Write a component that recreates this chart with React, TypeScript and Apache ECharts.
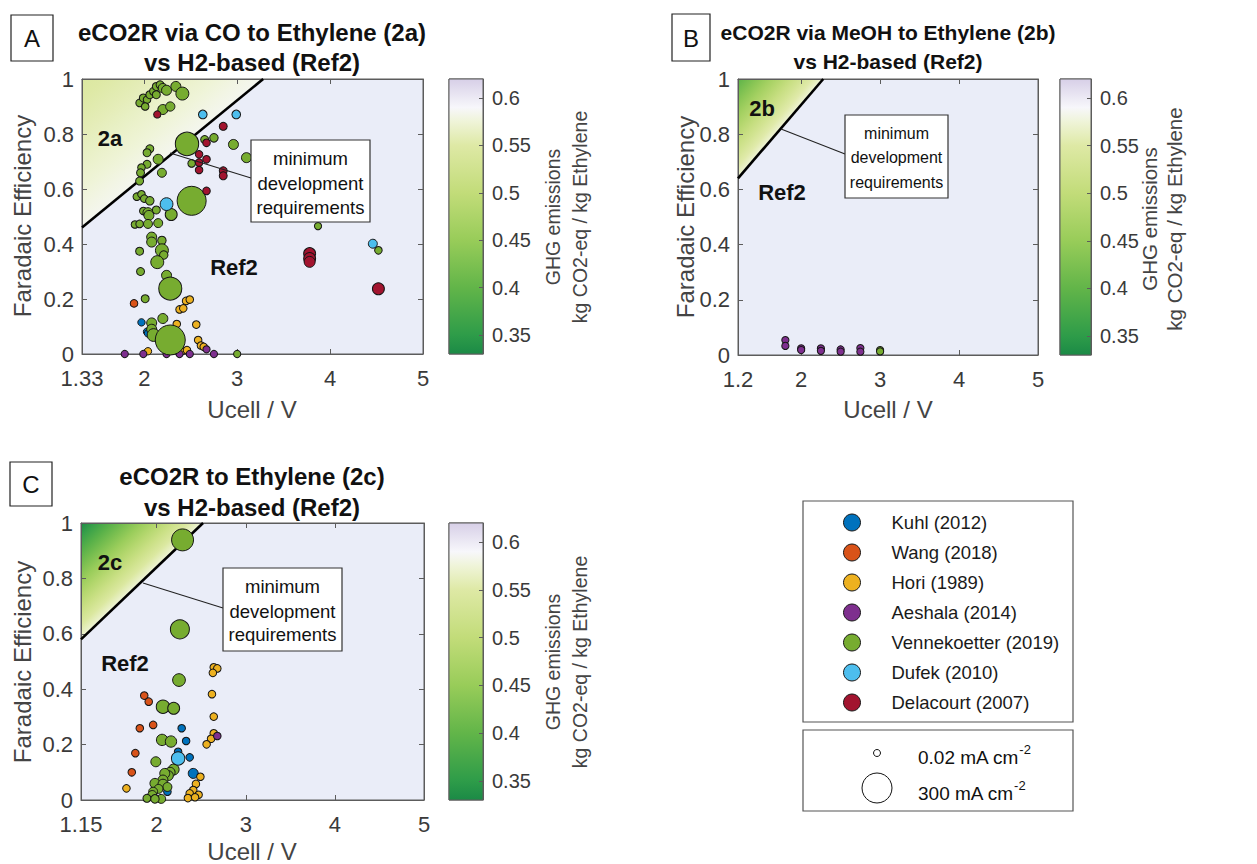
import React, { useEffect, useRef } from "react";
import * as echarts from "echarts";

const FONT = "'Liberation Sans', Arial, Helvetica, sans-serif";

// [Ucell (V), Faradaic efficiency, current density (mA cm-2)]
type Pt = [number, number, number];

const SOURCES = [
  "Kuhl (2012)",
  "Wang (2018)",
  "Hori (1989)",
  "Aeshala (2014)",
  "Vennekoetter (2019)",
  "Dufek (2010)",
  "Delacourt (2007)",
];
const SOURCE_COLORS = ["#0072BD", "#D95319", "#EDB120", "#7E2F8E", "#77AC30", "#4DBEEE", "#A2142F"];

// ---------- Panel A : eCO2R via CO to Ethylene (2a) ----------
const A_KUHL: Pt[] = [[1.97, 0.115, 2], [2.03, 0.081, 2], [2.04, 0.075, 2], [2.38, 0.003, 2]];
const A_WANG: Pt[] = [[1.89, 0.184, 3]];
const A_HORI: Pt[] = [
  [2.45, 0.193, 3], [2.49, 0.198, 3], [2.38, 0.162, 3], [2.42, 0.166, 3], [2.35, 0.109, 3],
  [2.56, 0.107, 3], [2.58, 0.051, 3], [2.61, 0.031, 3], [2.64, 0.026, 3], [2.04, 0.01, 2],
  [2.41, 0.012, 3], [2.46, 0.014, 3],
];
const A_AESHALA: Pt[] = [
  [1.79, 0, 1], [1.99, 0, 1], [2.24, 0, 1], [2.38, 0, 1], [2.49, 0, 1], [2.67, 0.017, 1], [2.75, 0, 1],
];
const A_VENN: Pt[] = [
  [1.95, 0.913, 3], [1.99, 0.931, 5], [2.03, 0.925, 3], [2.01, 0.9, 3], [2.06, 0.943, 5],
  [2.1, 0.955, 5], [2.13, 0.973, 5], [2.17, 0.979, 5], [2.2, 0.967, 13], [2.13, 0.943, 5],
  [2.24, 0.959, 18], [2.34, 0.973, 18], [2.41, 0.947, 42], [2.2, 0.889, 18], [2.28, 0.9, 13],
  [2.46, 0.764, 175], [2.65, 0.78, 5], [2.75, 0.786, 8], [2.96, 0.762, 18], [3.1, 0.714, 18],
  [2.51, 0.693, 3], [2.06, 0.746, 5], [2.03, 0.732, 5], [2.15, 0.708, 18], [2.03, 0.69, 5],
  [1.97, 0.678, 3], [1.96, 0.659, 5], [2.19, 0.659, 11], [1.95, 0.629, 5],
  [1.92, 0.572, 3], [1.97, 0.581, 3], [2.0, 0.565, 3], [2.06, 0.557, 8], [2.51, 0.557, 280],
  [1.99, 0.52, 3], [2.04, 0.514, 18], [2.13, 0.524, 5], [2.29, 0.507, 33], [2.05, 0.504, 18],
  [1.9, 0.471, 3], [1.95, 0.473, 3], [2.04, 0.473, 11], [2.15, 0.476, 11],
  [2.08, 0.425, 18], [2.08, 0.407, 18], [2.19, 0.413, 8], [1.95, 0.374, 5], [2.19, 0.377, 42],
  [2.21, 0.36, 8], [2.14, 0.334, 42], [1.96, 0.3, 5], [2.24, 0.286, 18], [2.28, 0.238, 170],
  [2.01, 0.201, 5], [2.08, 0.113, 18], [2.2, 0.129, 18], [2.08, 0.09, 18], [2.1, 0.069, 40],
  [2.28, 0.051, 300], [3.0, 0, 1], [3.87, 0.465, 1], [4.52, 0.377, 3],
];
const A_DUFEK: Pt[] = [[2.63, 0.871, 9], [2.99, 0.871, 9], [2.24, 0.545, 40], [4.46, 0.401, 11]];
const A_DELACOURT: Pt[] = [
  [2.14, 0.871, 1], [2.85, 0.828, 5], [2.67, 0.768, 3], [2.59, 0.726, 3], [2.67, 0.708, 3],
  [2.59, 0.696, 3], [2.59, 0.669, 3], [2.85, 0.666, 5], [2.85, 0.648, 5], [2.67, 0.593, 3],
  [3.78, 0.365, 33], [3.78, 0.347, 33], [3.78, 0.335, 25], [4.52, 0.237, 33],
];

// ---------- Panel B : eCO2R via MeOH to Ethylene (2b) ----------
const B_AESHALA: Pt[] = [
  [1.8, 0.054, 1], [1.8, 0.033, 1], [2.0, 0.024, 1], [2.0, 0.018, 1], [2.25, 0.024, 1],
  [2.25, 0.015, 1], [2.5, 0.02, 1], [2.5, 0.012, 1], [2.75, 0.025, 1], [2.75, 0.012, 1],
];
const B_VENN: Pt[] = [[3.0, 0.018, 1], [3.0, 0.013, 1]];

// ---------- Panel C : eCO2R to Ethylene (2c) ----------
const C_KUHL: Pt[] = [[2.28, 0.259, 3], [2.33, 0.213, 3], [2.24, 0.174, 3], [2.37, 0.154, 3], [2.41, 0.096, 18], [2.12, 0.03, 3]];
const C_WANG: Pt[] = [[1.86, 0.377, 3], [1.91, 0.355, 3], [1.81, 0.259, 3], [1.96, 0.271, 3], [1.76, 0.169, 3], [1.72, 0.1, 3]];
const C_HORI: Pt[] = [
  [1.66, 0.042, 3], [2.64, 0.479, 3], [2.68, 0.475, 3], [2.63, 0.459, 3], [2.62, 0.382, 3],
  [2.64, 0.301, 3], [2.64, 0.241, 3], [2.61, 0.221, 3], [2.56, 0.201, 3], [2.49, 0.084, 3],
  [2.44, 0.058, 3], [2.41, 0.036, 3], [2.37, 0.024, 3], [2.47, 0.019, 3], [2.35, 0.007, 3], [2.43, 0.01, 3],
];
const C_AESHALA: Pt[] = [[2.68, 0.231, 3]];
const C_VENN: Pt[] = [
  [2.29, 0.939, 153], [2.26, 0.616, 110], [2.25, 0.433, 40], [2.07, 0.337, 46], [2.19, 0.331, 33],
  [2.06, 0.217, 28], [2.16, 0.211, 28], [1.99, 0.138, 18], [2.19, 0.11, 25], [2.15, 0.1, 18],
  [2.13, 0.088, 18], [2.09, 0.096, 18], [2.07, 0.072, 18], [1.98, 0.06, 18], [2.07, 0.057, 18],
  [2.12, 0.047, 11], [2.02, 0.04, 11], [1.96, 0.03, 11], [1.95, 0.018, 11], [1.89, 0.006, 5],
  [2.05, 0.004, 11], [1.98, 0.004, 8],
];
const C_DUFEK: Pt[] = [[2.24, 0.15, 46]];

const A_SETS: Pt[][] = [A_KUHL, A_WANG, A_HORI, A_AESHALA, A_VENN, A_DUFEK, A_DELACOURT];
const B_SETS: Pt[][] = [[], [], [], B_AESHALA, B_VENN, [], []];
const C_SETS: Pt[][] = [C_KUHL, C_WANG, C_HORI, C_AESHALA, C_VENN, C_DUFEK, []];

// boundary "minimum development requirements" lines: [Ucell, FE]
const BOUNDARY_A: [number, number][] = [[1.33, 0.46], [3.28, 1]];
const BOUNDARY_B: [number, number][] = [[1.2, 0.64], [2.28, 1]];
const BOUNDARY_C: [number, number][] = [[1.15, 0.58], [2.52, 1]];

// GHG emission range of the region (corner value, value at the boundary)
const GHG_A: [number, number] = [0.545, 0.585];
const GHG_B: [number, number] = [0.395, 0.575];
const GHG_C: [number, number] = [0.33, 0.575];

const X_TICKS_A = [1.33, 2, 3, 4, 5];
const X_TICKS_B = [1.2, 2, 3, 4, 5];
const X_TICKS_C = [1.15, 2, 3, 4, 5];
const CBAR_TICKS = [0.35, 0.4, 0.45, 0.5, 0.55, 0.6];
const CBAR_RANGE: [number, number] = [0.33, 0.62];
const SIZE_LEGEND = [0.02, 300];

// colormap (GHG value -> colour)
const CMAP: [number, string][] = [
  [0.33, "#1b8a46"],
  [0.35, "#2e9c49"],
  [0.4, "#62b549"],
  [0.45, "#98cc59"],
  [0.5, "#c2dc79"],
  [0.55, "#dee9a5"],
  [0.575, "#eff4d8"],
  [0.59, "#f7f7fb"],
  [0.62, "#d7cfe7"],
];

const hex = (c: string) => [1, 3, 5].map((i) => parseInt(c.slice(i, i + 2), 16));
function cmap(v: number): string {
  if (v <= CMAP[0][0]) return CMAP[0][1];
  for (let i = 1; i < CMAP.length; i++) {
    if (v <= CMAP[i][0]) {
      const [v0, c0] = CMAP[i - 1];
      const [v1, c1] = CMAP[i];
      const t = (v - v0) / (v1 - v0);
      const a = hex(c0), b = hex(c1);
      return `rgb(${a.map((x, k) => Math.round(x + (b[k] - x) * t)).join(",")})`;
    }
  }
  return CMAP[CMAP.length - 1][1];
}

const D_MIN = 7, D_MAX = 30;
const sizeOf = (j: number) =>
  Math.sqrt(D_MIN * D_MIN + ((D_MAX * D_MAX - D_MIN * D_MIN) * Math.max(0, j - SIZE_LEGEND[0])) / (SIZE_LEGEND[1] - SIZE_LEGEND[0]));

const fmt = (v: number) => String(parseFloat(Number(v).toFixed(2)));

const AXIS_COLOR = "#5c5c5c";
const LABEL_COLOR = "#3a3a3a";
const PLOT_BG = "#eaedf8";

type PanelCfg = {
  grid: { left: number; top: number; width: number; height: number };
  cbar: { left: number; top: number; width: number; height: number };
  xMin: number;
  xTicks: number[];
  sets: Pt[][];
  boundary: [number, number][];
  ghg: [number, number];
};

const PANELS: PanelCfg[] = [
  {
    grid: { left: 82, top: 79, width: 341, height: 275 },
    cbar: { left: 449, top: 79, width: 34, height: 275 },
    xMin: 1.33, xTicks: X_TICKS_A, sets: A_SETS, boundary: BOUNDARY_A, ghg: GHG_A,
  },
  {
    grid: { left: 738, top: 79, width: 300, height: 276 },
    cbar: { left: 1060, top: 79, width: 31, height: 276 },
    xMin: 1.2, xTicks: X_TICKS_B, sets: B_SETS, boundary: BOUNDARY_B, ghg: GHG_B,
  },
  {
    grid: { left: 81, top: 523, width: 343, height: 277 },
    cbar: { left: 449, top: 523, width: 34, height: 277 },
    xMin: 1.15, xTicks: X_TICKS_C, sets: C_SETS, boundary: BOUNDARY_C, ghg: GHG_C,
  },
];

function buildOption() {
  const grid: any[] = [];
  const xAxis: any[] = [];
  const yAxis: any[] = [];
  const series: any[] = [];
  const lineStyle = { color: AXIS_COLOR, width: 1 };
  const tickFont = { color: LABEL_COLOR, fontSize: 22, fontFamily: FONT };

  PANELS.forEach((p, pi) => {
    const g = grid.length;
    grid.push({ ...p.grid, show: true, backgroundColor: PLOT_BG, borderColor: AXIS_COLOR, borderWidth: 1, containLabel: false });
    grid.push({ ...p.cbar, show: true, backgroundColor: "transparent", borderColor: AXIS_COLOR, borderWidth: 1, containLabel: false });
    const xi = xAxis.length;
    const yi = yAxis.length;
    xAxis.push({
      type: "value", gridIndex: g, min: p.xMin, max: 5, position: "bottom", z: 1.5,
      axisLine: { show: true, onZero: false, lineStyle },
      axisTick: { show: true, inside: true, length: 5, customValues: p.xTicks, lineStyle },
      axisLabel: { show: true, customValues: p.xTicks, formatter: fmt, margin: 13, ...tickFont },
      splitLine: { show: false },
    });
    xAxis.push({
      type: "value", gridIndex: g, min: p.xMin, max: 5, position: "top", z: 1.5,
      axisLine: { show: true, onZero: false, lineStyle },
      axisTick: { show: true, inside: true, length: 5, customValues: p.xTicks, lineStyle },
      axisLabel: { show: false },
      splitLine: { show: false },
    });
    xAxis.push({ type: "value", gridIndex: g + 1, min: 0, max: 1, show: false });
    yAxis.push({
      type: "value", gridIndex: g, min: 0, max: 1, interval: 0.2, position: "left", z: 1.5,
      axisLine: { show: true, onZero: false, lineStyle },
      axisTick: { show: true, inside: true, length: 5, lineStyle },
      axisLabel: { show: true, formatter: fmt, margin: 8, ...tickFont },
      splitLine: { show: false },
    });
    yAxis.push({
      type: "value", gridIndex: g, min: 0, max: 1, interval: 0.2, position: "right", z: 1.5,
      axisLine: { show: true, onZero: false, lineStyle },
      axisTick: { show: true, inside: true, length: 5, lineStyle },
      axisLabel: { show: false },
      splitLine: { show: false },
    });
    yAxis.push({
      type: "value", gridIndex: g + 1, min: CBAR_RANGE[0], max: CBAR_RANGE[1], position: "right", z: 3,
      axisLine: { show: true, onZero: false, lineStyle },
      axisTick: { show: true, inside: true, length: 4, customValues: CBAR_TICKS, lineStyle },
      axisLabel: { show: true, customValues: CBAR_TICKS, formatter: fmt, margin: 9, color: LABEL_COLOR, fontSize: 20, fontFamily: FONT },
      splitLine: { show: false },
    });

    const regionStops = Array.from({ length: 9 }, (_, k) => ({
      offset: k / 8,
      color: cmap(p.ghg[0] + ((p.ghg[1] - p.ghg[0]) * k) / 8),
    }));
    series.push({
      type: "custom", name: `region${pi}`, xAxisIndex: xi, yAxisIndex: yi, z: 1, silent: true,
      data: [[p.boundary[0][0], p.boundary[0][1], p.boundary[1][0], p.boundary[1][1]]],
      renderItem: (_params: any, api: any) => {
        const p0 = api.coord([api.value(0), api.value(1)]);
        const p1 = api.coord([api.value(2), api.value(3)]);
        const corner = api.coord([api.value(0), api.value(3)]);
        const dx = p1[0] - p0[0], dy = p1[1] - p0[1];
        const t = ((corner[0] - p0[0]) * dx + (corner[1] - p0[1]) * dy) / (dx * dx + dy * dy);
        const fx = p0[0] + t * dx, fy = p0[1] + t * dy;
        return {
          type: "polygon",
          shape: { points: [p0, corner, p1] },
          style: { fill: new echarts.graphic.LinearGradient(corner[0], corner[1], fx, fy, regionStops, true), stroke: "none" },
        };
      },
    });
    series.push({
      type: "line", name: `boundary${pi}`, xAxisIndex: xi, yAxisIndex: yi, z: 1.6, silent: true,
      data: p.boundary, symbol: "none", lineStyle: { color: "#000", width: 2.6 }, animation: false,
    });
    const cbStops = CMAP.map(([v, c]) => ({ offset: (CBAR_RANGE[1] - v) / (CBAR_RANGE[1] - CBAR_RANGE[0]), color: c })).reverse();
    series.push({
      type: "custom", name: `cbar${pi}`, xAxisIndex: xi + 2, yAxisIndex: yi + 2, z: 1, silent: true,
      data: [[0, CBAR_RANGE[0], 1, CBAR_RANGE[1]]],
      renderItem: (_params: any, api: any) => {
        const tl = api.coord([api.value(0), api.value(3)]);
        const br = api.coord([api.value(2), api.value(1)]);
        return {
          type: "rect",
          shape: { x: tl[0], y: tl[1], width: br[0] - tl[0], height: br[1] - tl[1] },
          style: {
            fill: new echarts.graphic.LinearGradient(0, tl[1], 0, br[1], cbStops, true),
            stroke: AXIS_COLOR, lineWidth: 1,
          },
        };
      },
    });
    p.sets.forEach((pts, si) => {
      if (!pts.length) return;
      series.push({
        type: "scatter", name: SOURCES[si], xAxisIndex: xi, yAxisIndex: yi, z: 3, clip: false,
        data: pts,
        symbol: "circle",
        symbolSize: (v: Pt) => sizeOf(v[2]),
        itemStyle: { color: SOURCE_COLORS[si], borderColor: "#151515", borderWidth: 1, opacity: 1 },
        emphasis: { disabled: true },
      });
    });
  });

  const T = (x: number, y: number, text: string, font: string, extra: any = {}, rot = 0) => ({
    type: "text", x, y, rotation: rot, z: 100, silent: true,
    style: { text, font, fill: "#111", align: "center", verticalAlign: "middle", textAlign: "center", textVerticalAlign: "middle", ...extra },
  });
  const R = (x: number, y: number, w: number, h: number, stroke = "#333") => ({
    type: "rect", z: 99, silent: true, shape: { x, y, width: w, height: h }, style: { fill: "#fff", stroke, lineWidth: 1.2 },
  });
  const L = (x1: number, y1: number, x2: number, y2: number) => ({
    type: "line", z: 99, silent: true, shape: { x1, y1, x2, y2 }, style: { stroke: "#222", lineWidth: 1.1 },
  });
  const bold24 = `bold 24px ${FONT}`;
  const bold21 = `bold 21px ${FONT}`;
  const bold22 = `bold 22px ${FONT}`;
  const reg24 = `24px ${FONT}`;
  const reg185 = `18.5px ${FONT}`;
  const reg16 = `16px ${FONT}`;
  const cbFont = `19.5px ${FONT}`;
  const cbFontB = `20.5px ${FONT}`;
  const rot = Math.PI / 2;
  const gray = { fill: "#444" };

  const graphic: any[] = [
    R(11, 15, 42, 46, "#222"), T(32, 38, "A", reg24),
    R(672, 14, 38, 47, "#222"), T(691, 38, "B", reg24),
    R(10, 462, 42, 44, "#222"), T(31, 484, "C", reg24),
    T(252, 32, "eCO2R via CO to Ethylene (2a)", bold24), T(252, 62, "vs H2-based (Ref2)", bold24),
    T(888, 32, "eCO2R via MeOH to Ethylene (2b)", bold21), T(888, 61, "vs H2-based (Ref2)", bold21),
    T(252, 476, "eCO2R to Ethylene (2c)", bold24), T(252, 507, "vs H2-based (Ref2)", bold24),
    T(252, 409, "Ucell / V", reg24, gray), T(22, 216, "Faradaic Efficiency", reg24, gray, rot),
    T(888, 409, "Ucell / V", reg24, gray), T(685, 217, "Faradaic Efficiency", reg24, gray, rot),
    T(252, 851, "Ucell / V", reg24, gray), T(22, 662, "Faradaic Efficiency", reg24, gray, rot),
    T(553, 217, "GHG emissions", cbFont, gray, rot), T(580, 217, "kg CO2-eq / kg Ethylene", cbFont, gray, rot),
    T(1149, 219, "GHG emissions", cbFontB, gray, rot), T(1174, 219, "kg CO2-eq / kg Ethylene", cbFontB, gray, rot),
    T(553, 662, "GHG emissions", cbFont, gray, rot), T(580, 662, "kg CO2-eq / kg Ethylene", cbFont, gray, rot),
    T(110, 138, "2a", bold22), T(234, 267, "Ref2", bold22),
    T(762, 108, "2b", bold22), T(782, 192, "Ref2", bold22),
    T(110, 562, "2c", bold22), T(125, 663, "Ref2", bold22),
    L(170, 153, 251, 178), R(251, 140, 119, 82), T(310.5, 158, "minimum", reg185), T(310.5, 183, "development", reg185), T(310.5, 207, "requirements", reg185),
    L(781, 129, 845, 154), R(845, 115, 103, 83), T(896.5, 133, "minimum", reg16), T(896.5, 157, "development", reg16), T(896.5, 182, "requirements", reg16),
    L(143, 583, 223, 608), R(223, 568, 119, 83), T(282.5, 586, "minimum", reg185), T(282.5, 611, "development", reg185), T(282.5, 634, "requirements", reg185),
    { type: "rect", z: 50, silent: true, shape: { x: 803, y: 501, width: 270, height: 221 }, style: { fill: "#fff", stroke: "#555", lineWidth: 1.2 } },
    { type: "rect", z: 50, silent: true, shape: { x: 803, y: 730, width: 270, height: 81 }, style: { fill: "#fff", stroke: "#555", lineWidth: 1.2 } },
    { type: "circle", z: 101, silent: true, shape: { cx: 877, cy: 753, r: sizeOf(SIZE_LEGEND[0]) / 2 }, style: { fill: "#fff", stroke: "#111", lineWidth: 1 } },
    { type: "circle", z: 101, silent: true, shape: { cx: 877, cy: 788, r: sizeOf(SIZE_LEGEND[1]) / 2 }, style: { fill: "#fff", stroke: "#111", lineWidth: 1 } },
  ];
  const supText = (x: number, y: number, main: string) => ({
    type: "text", x, y, z: 101, silent: true,
    style: {
      text: `{a|${main}}{s|-2}`,
      align: "left", verticalAlign: "middle", textAlign: "left", textVerticalAlign: "middle",
      rich: {
        a: { fontSize: 19, fontFamily: FONT, fill: "#111", color: "#111", lineHeight: 24, verticalAlign: "bottom" },
        s: { fontSize: 13, fontFamily: FONT, fill: "#111", color: "#111", lineHeight: 14, verticalAlign: "top" },
      },
    },
  });
  graphic.push(supText(918, 755, `${fmt(SIZE_LEGEND[0])} mA cm`));
  graphic.push(supText(918, 791, `${fmt(SIZE_LEGEND[1])} mA cm`));

  return {
    animation: false,
    backgroundColor: "#ffffff",
    textStyle: { fontFamily: FONT },
    grid,
    xAxis,
    yAxis,
    series,
    legend: {
      data: SOURCES,
      orient: "vertical",
      left: 843,
      top: 513,
      padding: 0,
      itemWidth: 17,
      itemHeight: 17,
      itemGap: 11,
      icon: "circle",
      selectedMode: false,
      z: 60,
      itemStyle: { borderColor: "#151515", borderWidth: 1 },
      textStyle: { fontSize: 18.5, fontFamily: FONT, color: "#1a1a1a", lineHeight: 17, padding: [0, 0, 0, 26] },
    },
    graphic,
  };
}

export default function App() {
  const ref = useRef<HTMLDivElement>(null);
  useEffect(() => {
    if (!ref.current) return;
    const chart = echarts.init(ref.current, undefined, { renderer: "svg" });
    chart.setOption(buildOption() as any);
    return () => chart.dispose();
  }, []);
  return (
    <div
      ref={ref}
      style={{ position: "fixed", left: 0, top: 0, width: 1257, height: 864, background: "#fff" }}
    />
  );
}
